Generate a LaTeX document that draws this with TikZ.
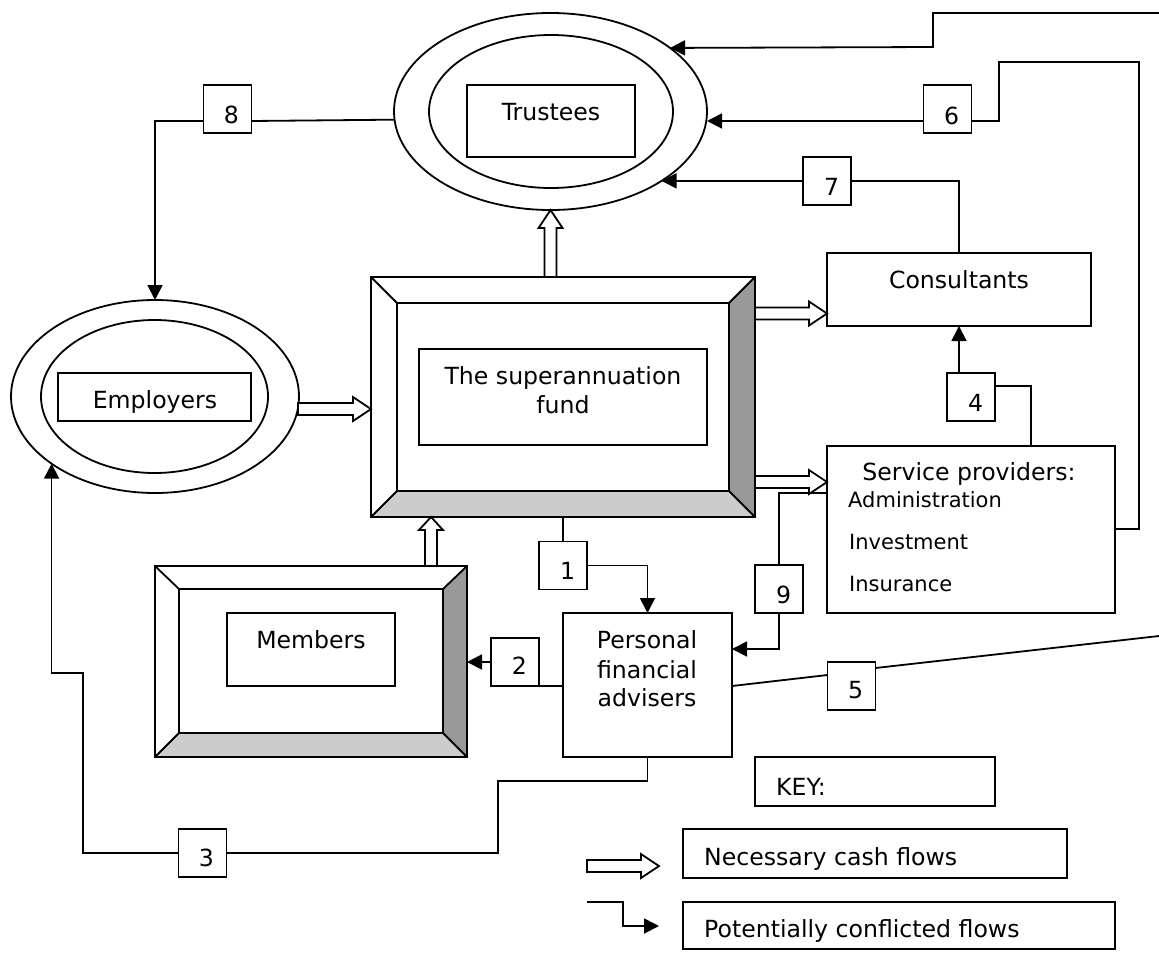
\documentclass[tikz,border=0pt]{standalone}
\usepackage{fontspec}
\setmainfont{DejaVu Sans}
\usetikzlibrary{shapes.geometric,arrows.meta,calc}
\definecolor{bevdark}{HTML}{999999}
\definecolor{bevlight}{HTML}{CCCCCC}
\begin{document}
\begin{tikzpicture}[x=1pt,y=-1pt,
  lw/.style={line width=1.8pt},
  box/.style={draw, lw, rectangle, inner sep=0pt, outer sep=0pt, fill=white},
  ell/.style={draw, lw, ellipse, inner sep=0pt, outer sep=0pt},
  numbox/.style={box, minimum width=48pt, minimum height=48pt},
  txt/.style={font=\fontsize{23.6}{29}\selectfont, inner sep=0pt, anchor=base},
  keytxt/.style={txt, anchor=base west},
  smalltxt/.style={font=\fontsize{21}{26}\selectfont, inner sep=0pt, anchor=base west},
  conn/.style={lw},
  cf/.style={lw, -{Triangle[length=15pt,width=15pt]}},
  hlen/.store in=\hlen, hlen=72,
  hhead/.store in=\hhead, hhead=18,
  hollow/.pic={\draw[lw, fill=white] (0,-6) -- ({\hlen-\hhead},-6) -- ({\hlen-\hhead},-12) -- (\hlen,0) -- ({\hlen-\hhead},12) -- ({\hlen-\hhead},6) -- (0,6) -- cycle;}
]
\useasboundingbox (0,0) rectangle (1159,956);

% ---------- Trustees ----------
\node[ell, minimum width=313pt, minimum height=197pt] (trO) at (550.5,111.5) {};
\node[ell, minimum width=244pt, minimum height=153pt] (trI) at (551,111.5) {};
\node[box, minimum width=168pt, minimum height=72pt] (trB) at (551,121) {};
\node[txt] (trT) at (551,120) {Trustees};

% ---------- Employers ----------
\node[ell, minimum width=288pt, minimum height=193pt] (empO) at (155,396.5) {};
\node[ell, minimum width=227pt, minimum height=153pt] (empI) at (154.5,396.5) {};
\node[box, minimum width=193pt, minimum height=48pt] (empB) at (154.5,397) {};
\node[txt] (empT) at (155,408) {Employers};

% ---------- Fund (bevelled) ----------
\node[box, minimum width=384pt, minimum height=240pt] (fund) at (563,397) {};
\node[rectangle, inner sep=0pt, outer sep=0pt, minimum width=332pt, minimum height=188pt] (fundI) at (563,397) {};
\fill[bevdark] (fund.north east) -- (fund.south east) -- (fundI.south east) -- (fundI.north east) -- cycle;
\fill[bevlight] (fund.south west) -- (fund.south east) -- (fundI.south east) -- (fundI.south west) -- cycle;
\draw[lw] (fund.north west) rectangle (fund.south east);
\draw[lw] (fundI.north west) rectangle (fundI.south east);
\draw[lw] (fund.north west) -- (fundI.north west) (fund.north east) -- (fundI.north east)
          (fund.south west) -- (fundI.south west) (fund.south east) -- (fundI.south east);
\node[box, minimum width=288pt, minimum height=96pt] (fundB) at (563,397) {};
\node[txt] (fundT1) at (563,384) {The superannuation};
\node[txt] (fundT2) at (563,413) {fund};

% ---------- Members (bevelled) ----------
\node[box, minimum width=312pt, minimum height=191pt] (mem) at (311,661.5) {};
\node[rectangle, inner sep=0pt, outer sep=0pt, minimum width=264pt, minimum height=144pt] (memI) at (311,661) {};
\fill[bevdark] (mem.north east) -- (mem.south east) -- (memI.south east) -- (memI.north east) -- cycle;
\fill[bevlight] (mem.south west) -- (mem.south east) -- (memI.south east) -- (memI.south west) -- cycle;
\draw[lw] (mem.north west) rectangle (mem.south east);
\draw[lw] (memI.north west) rectangle (memI.south east);
\draw[lw] (mem.north west) -- (memI.north west) (mem.north east) -- (memI.north east)
          (mem.south west) -- (memI.south west) (mem.south east) -- (memI.south east);
\node[box, minimum width=168pt, minimum height=73pt] (memB) at (311,649.5) {};
\node[txt] (memT) at (311,648) {Members};

% ---------- Consultants / Service providers / Advisers ----------
\node[box, minimum width=264pt, minimum height=73pt] (cons) at (959,289.5) {};
\node[txt] (consT) at (959,288) {Consultants};

\node[box, minimum width=288pt, minimum height=167pt] (sp) at (971,529.5) {};
\node[txt] (spT) at (969,480) {Service providers:};
\node[smalltxt] (spA) at (848,507) {Administration};
\node[smalltxt] (spB) at (849,549) {Investment};
\node[smalltxt] (spC) at (849,591) {Insurance};

\node[box, minimum width=169pt, minimum height=144pt] (adv) at (647.5,685) {};
\node[txt] (advT1) at (647,648) {Personal};
\node[txt] (advT2) at (647,678) {financial};
\node[txt] (advT3) at (647,706) {advisers};

% ---------- Key ----------
\node[box, minimum width=240pt, minimum height=49pt] (key) at (875,781.5) {};
\node[keytxt] (keyT) at (776,795) {KEY:};
\node[box, minimum width=384pt, minimum height=49pt] (keyN) at (875,853.5) {};
\node[keytxt] (keyNT) at (704,865) {Necessary cash flows};
\node[box, minimum width=432pt, minimum height=47pt] (keyP) at (899,925.5) {};
\node[keytxt] (keyPT) at (704,937) {Potentially conflicted flows};

% ---------- Number boxes ----------
\node[numbox] (b1) at (563,565.5) {};   \node[txt] (n1) at (567.5,579) {1};
\node[numbox] (b2) at (515,662) {};     \node[txt] (n2) at (519.5,674) {2};
\node[numbox] (b3) at (202.5,853) {};   \node[txt] (n3) at (206.5,866) {3};
\node[numbox] (b4) at (971,397) {};     \node[txt] (n4) at (975.5,411) {4};
\node[numbox] (b5) at (851.5,686) {};   \node[txt] (n5) at (855.5,698) {5};
\node[numbox] (b6) at (947.5,109) {};   \node[txt] (n6) at (951.5,124) {6};
\node[numbox] (b7) at (827,181) {};     \node[txt] (n7) at (831.5,195) {7};
\node[numbox] (b8) at (227.5,109) {};   \node[txt] (n8) at (231.5,123) {8};
\node[numbox] (b9) at (779,589) {};     \node[txt] (n9) at (783.5,603) {9};

\coordinate (e0) at (1159,13);
\coordinate (e5) at (1159,636);
\coordinate (k1) at (587,902);
\coordinate (k2) at (659,926);

% ---------- Potentially conflicted flows ----------
% 1
\draw[conn] (fund.south) -- (b1.north);
\draw[cf] (b1.east) -| (adv.north);
% 2
\draw[conn] (adv.west |- b2.south) -- (b2.south east);
\draw[cf] (b2.west) -- (mem.east |- b2.west);
% 3
\draw[conn] (adv.south) |- (498,781) |- (b3.east);
\draw[cf] (b3.west) -| (83,673) -| (empO.213.7);
% 4
\draw[conn] (sp.north -| 1031,0) |- (b4.east |- 0,386);
\draw[cf] (b4.north -| cons.south) -- (cons.south);
% 5
\draw[conn] (adv.east |- 0,686) -- (b5.west |- 0,675);
\draw[conn] (b5.east |- 0,668) -- (e5);
% 6
\draw[conn] (sp.east |- 0,529) -| (1139,62) -| (999,121) -- (b6.east |- 0,121);
\draw[cf] (b6.west |- 0,121) -- (trO.east |- 0,121);
% 7
\draw[conn] (cons.north) |- (b7.east);
\draw[cf] (b7.west) -- (trO.-32.8);
% 8
\draw[conn] (trO.183.5) -- (b8.east |- 0,121);
\draw[cf] (b8.west |- 0,121) -| (empO.north);
% 9
\draw[conn] (sp.west |- 0,493) -| (b9.north);
\draw[cf] (b9.south) |- (adv.east |- 0,649);
% top (off-page)
\draw[cf] (e0) -| (933,47) -- (trO.28.6);
% key
\draw[cf] (k1) -| (623,914) |- (k2);

% ---------- Necessary cash flows ----------
\pic[hlen=73] at (298,409) {hollow};
\pic[rotate=90, hlen=67] at (trO.south |- fund.north) {hollow};
\pic[hlen=72] at (fund.east |- 0,313.5) {hollow};
\pic[hlen=72] at (fund.east |- 0,482) {hollow};
\pic[rotate=90, hlen=49, hhead=13] at (mem.north -| 431,0) {hollow};
\pic[hlen=72] at (587,866) {hollow};
\end{tikzpicture}
\end{document}
